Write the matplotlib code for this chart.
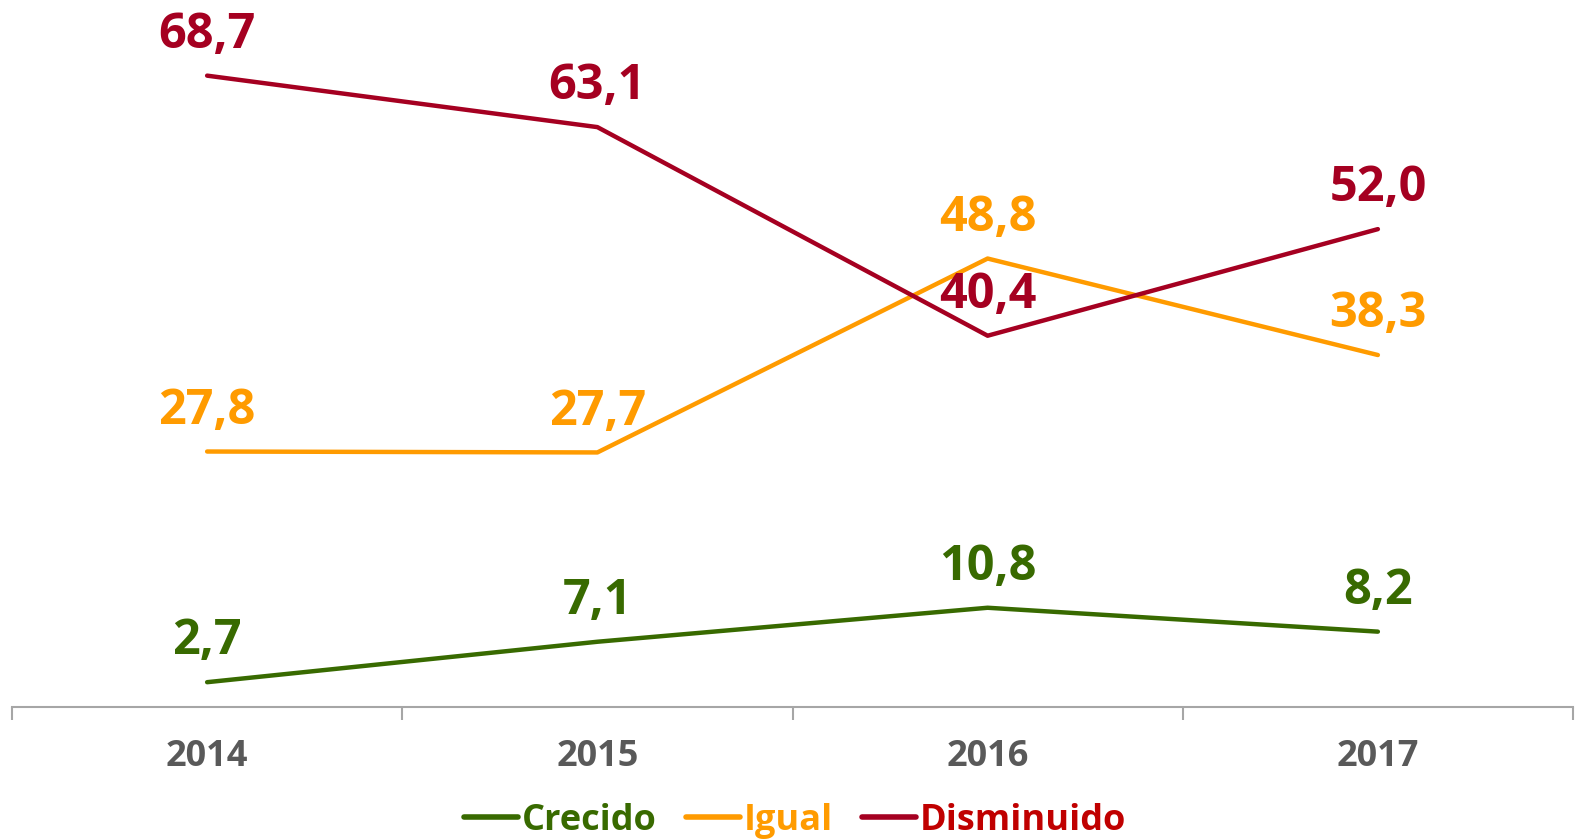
import matplotlib
matplotlib.use("Agg")
import matplotlib.pyplot as plt

plt.rcParams["font.family"] = ["Open Sans", "DejaVu Sans"]

years = ["2014", "2015", "2016", "2017"]
crecido = [2.7, 7.1, 10.8, 8.2]
igual = [27.8, 27.7, 48.8, 38.3]
disminuido = [68.7, 63.1, 40.4, 52.0]

series = [
    ("Crecido", crecido, "#386A00", "#386A00"),
    ("Igual", igual, "#FF9B00", "#FF9B00"),
    ("Disminuido", disminuido, "#A50021", "#C00000"),
]


def fmt(v):
    return f"{v:.1f}".replace(".", ",")


fig = plt.figure(figsize=(15.79, 8.39), dpi=100)
ax = fig.add_axes([12 / 1579, 1 - 707 / 839, 1561 / 1579, 707 / 839])

x = list(range(len(years)))
handles = []
for name, vals, color, text_color in series:
    (ln,) = ax.plot(x, vals, color=color, linewidth=3.2, solid_capstyle="round", label=name)
    handles.append((ln, text_color))
    for xi, v in zip(x, vals):
        ax.annotate(
            fmt(v),
            (xi, v),
            xytext=(0, 20),
            textcoords="offset points",
            ha="center",
            va="baseline",
            fontsize=35,
            fontweight="bold",
            color=color,
        )

ax.set_xlim(-0.5, 3.5)
ax.set_ylim(0, 707 / 9.19)

for s in ["top", "right", "left"]:
    ax.spines[s].set_visible(False)
ax.spines["bottom"].set_color("#A6A6A6")
ax.spines["bottom"].set_linewidth(1.5)

ax.set_yticks([])
ax.set_xticks(x)
ax.set_xticklabels(years, fontsize=26, fontweight="bold", color="#595959")
ax.tick_params(axis="x", which="major", length=0, pad=23)
ax.set_xticks([-0.5, 0.5, 1.5, 2.5, 3.5], minor=True)
ax.tick_params(axis="x", which="minor", length=9, width=1.5, color="#A6A6A6", direction="out")

leg = fig.legend(
    [h[0] for h in handles],
    [s[0] for s in series],
    loc="center",
    bbox_to_anchor=(795 / 1579, 1 - 821 / 839),
    ncol=3,
    frameon=False,
    handlelength=1.5,
    handletextpad=0.1,
    columnspacing=0.8,
    prop={"weight": "bold", "size": 26},
)
for txt, (ln, tc) in zip(leg.get_texts(), handles):
    txt.set_color(tc)
for lh in leg.get_lines():
    lh.set_linewidth(4)

fig.savefig("out.png", dpi=100)
